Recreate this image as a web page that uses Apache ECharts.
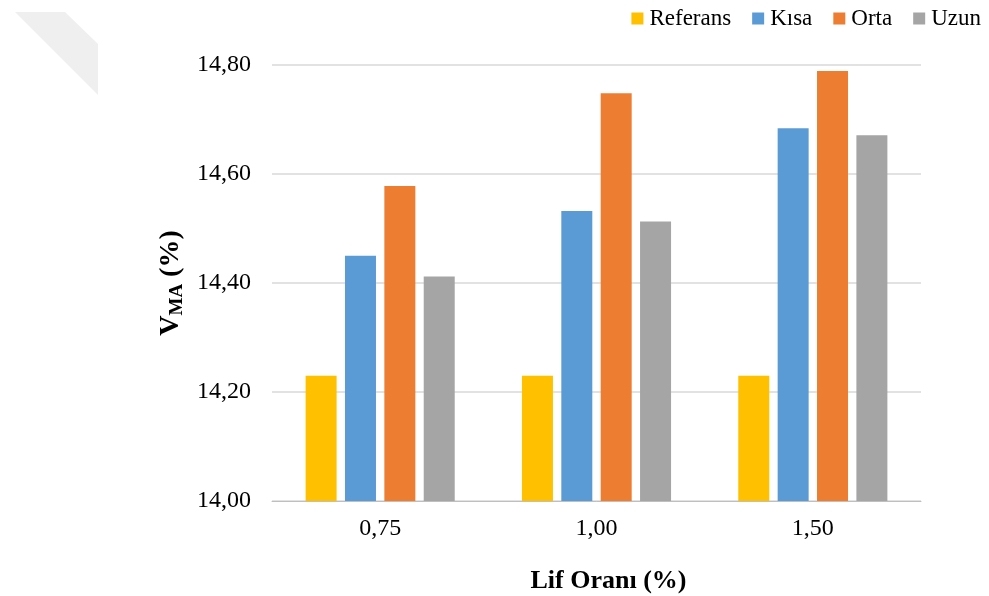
<!DOCTYPE html>
<html>
<head>
<meta charset="utf-8">
<script src="https://cdn.jsdelivr.net/npm/echarts@6/dist/echarts.min.js"></script>
<style>
  html, body { margin: 0; padding: 0; background: #fff; }
  #chart { width: 989px; height: 596px; }
</style>
</head>
<body>
<div id="chart"></div>
<script>
// Fiber ratio groups on the x axis
const categories = ['0,75', '1,00', '1,50'];
// V_MA (%) per fiber length
const referans = [14.23, 14.23, 14.23];
const kisa = [14.45, 14.532, 14.684];
const orta = [14.578, 14.748, 14.789];
const uzun = [14.412, 14.513, 14.671];
const seriesNames = ['Referans', 'Kısa', 'Orta', 'Uzun'];
const colors = ['#FFC000', '#5B9BD5', '#ED7D31', '#A5A5A5'];

const chart = echarts.init(document.getElementById('chart'));
const font = '"Liberation Serif", "Times New Roman", serif';
const values = [referans, kisa, orta, uzun];

chart.setOption({
  animation: false,
  textStyle: { fontFamily: font },
  graphic: [{
    type: 'polygon',
    shape: { points: [[15, 12], [65, 12], [98, 44], [98, 95]] },
    style: { fill: '#efefef' },
    silent: true
  }],
  legend: {
    data: seriesNames,
    right: 3,
    top: 2,
    itemWidth: 12,
    itemHeight: 12,
    itemGap: 21,
    icon: 'rect',
    textStyle: { fontFamily: font, fontSize: 23, color: '#000', padding: [0, 0, 0, 1] }
  },
  grid: { left: 272, right: 68, top: 65, bottom: 95, outerBoundsMode: 'none', containLabel: false },
  xAxis: {
    type: 'category',
    data: categories,
    name: 'Lif Oranı (%)',
    nameLocation: 'middle',
    nameGap: 67,
    nameTextStyle: { fontFamily: font, fontSize: 26, fontWeight: 'bold', color: '#000', padding: [0, 0, 0, 24] },
    axisLine: { lineStyle: { color: '#bfbfbf', width: 1 } },
    axisTick: { show: false },
    axisLabel: { fontFamily: font, fontSize: 24, color: '#000', margin: 16 }
  },
  yAxis: {
    type: 'value',
    min: 14.0,
    max: 14.8,
    interval: 0.2,
    name: '{v|V}{s|MA}{v| (%)}',
    nameLocation: 'middle',
    nameGap: 84,
    nameRotate: 90,
    nameTextStyle: {
      rich: {
        v: { fontFamily: font, fontSize: 28, fontWeight: 'bold', color: '#000' },
        s: { fontFamily: font, fontSize: 19, fontWeight: 'bold', color: '#000', verticalAlign: 'bottom', padding: [12, 0, 0, 0] }
      }
    },
    axisLine: { show: false },
    axisTick: { show: false },
    splitLine: { lineStyle: { color: '#d9d9d9', width: 1.5 } },
    axisLabel: {
      fontFamily: font, fontSize: 24, color: '#000', margin: 21,
      formatter: v => v.toFixed(2).replace('.', ',')
    }
  },
  series: seriesNames.map((n, i) => ({
    name: n,
    type: 'bar',
    data: values[i],
    barWidth: 31,
    barGap: '27%',
    itemStyle: { color: colors[i] }
  }))
});
</script>
</body>
</html>
